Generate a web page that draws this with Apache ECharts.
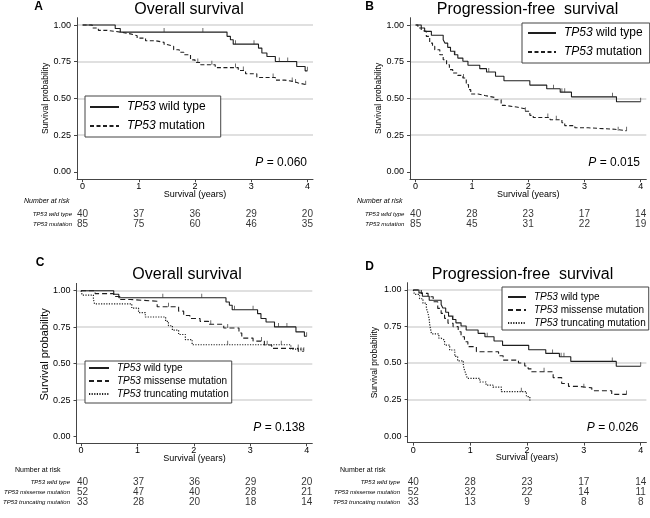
<!DOCTYPE html>
<html>
<head>
<meta charset="utf-8">
<script src="https://cdn.jsdelivr.net/npm/echarts@6/dist/echarts.min.js"></script>
<style>html,body{margin:0;padding:0;background:#fff}#c{width:650px;height:518px}</style>
</head>
<body>
<div id="c"></div>
<script>
// ---------------- data ----------------
const xTicks = [0, 1, 2, 3, 4];
const yTicks = [0, 0.25, 0.5, 0.75, 1];

// Kaplan-Meier events: [time (years), survival after the step]
const osWild = [[0.58,0.976],[0.67,0.952],[2.57,0.923],[2.63,0.9],[2.68,0.87],[3.13,0.843],[3.19,0.81],[3.28,0.786],[3.43,0.752],[3.81,0.718],[3.96,0.688]];
const osWildEnd = 4.0;
const osMut = [[0.17,0.98],[0.28,0.964],[0.43,0.952],[0.67,0.94],[0.85,0.927],[0.97,0.911],[1.12,0.893],[1.3,0.882],[1.45,0.867],[1.5,0.855],[1.62,0.832],[1.72,0.815],[1.8,0.798],[1.92,0.763],[2.0,0.745],[2.1,0.73],[2.36,0.71],[2.77,0.69],[2.9,0.668],[3.1,0.643],[3.43,0.625],[3.6,0.616],[3.75,0.605],[3.84,0.593]];
const osMutEnd = 4.0;
const osMis = [[0.25,0.98],[0.58,0.96],[0.69,0.94],[0.87,0.928],[1.35,0.89],[1.73,0.86],[1.82,0.83],[1.93,0.81],[2.11,0.79],[2.26,0.77],[2.53,0.745],[2.8,0.71],[2.85,0.675],[3.05,0.655],[3.25,0.628],[3.38,0.605],[3.85,0.585]];
const osMisEnd = 3.95;
const osTrunc = [[0.02,0.97],[0.22,0.94],[0.24,0.91],[0.9,0.88],[1.02,0.85],[1.14,0.82],[1.5,0.79],[1.55,0.76],[1.62,0.73],[1.73,0.7],[1.85,0.665],[1.97,0.63],[3.72,0.6]];
const osTruncEnd = 3.95;

const pfsWild = [[0.1,0.98],[0.16,0.957],[0.28,0.93],[0.49,0.9],[0.52,0.877],[0.57,0.848],[0.62,0.821],[0.69,0.798],[0.75,0.775],[0.84,0.753],[0.93,0.726],[1.14,0.703],[1.26,0.68],[1.42,0.651],[1.57,0.621],[2.03,0.591],[2.33,0.566],[2.57,0.543],[2.77,0.511],[3.57,0.478]];
const pfsWildEnd = 4.0;
const pfsMut = [[0.04,0.98],[0.1,0.965],[0.13,0.957],[0.19,0.923],[0.25,0.877],[0.3,0.855],[0.34,0.832],[0.43,0.798],[0.49,0.764],[0.55,0.73],[0.6,0.696],[0.66,0.673],[0.75,0.657],[0.84,0.639],[0.9,0.594],[0.94,0.56],[0.98,0.53],[1.11,0.52],[1.23,0.507],[1.4,0.491],[1.52,0.453],[1.58,0.44],[1.82,0.43],[1.94,0.413],[2.03,0.385],[2.09,0.37],[2.39,0.355],[2.6,0.335],[2.65,0.315],[2.83,0.3],[3.07,0.29],[3.54,0.28]];
const pfsMutEnd = 3.75;
const pfsMis = [[0.14,0.977],[0.26,0.954],[0.35,0.92],[0.43,0.874],[0.49,0.84],[0.55,0.806],[0.61,0.772],[0.7,0.749],[0.79,0.714],[0.84,0.68],[0.9,0.646],[0.96,0.612],[1.11,0.577],[1.5,0.55],[1.58,0.52],[1.85,0.5],[1.96,0.48],[2.02,0.46],[2.08,0.44],[2.46,0.4],[2.61,0.36],[2.73,0.34],[2.9,0.33],[3.14,0.31],[3.49,0.285]];
const pfsMisEnd = 3.75;
const pfsTrunc = [[0.02,0.97],[0.11,0.94],[0.17,0.91],[0.23,0.876],[0.26,0.84],[0.28,0.8],[0.29,0.76],[0.32,0.7],[0.45,0.67],[0.49,0.657],[0.55,0.623],[0.64,0.589],[0.73,0.545],[0.78,0.515],[0.88,0.48],[0.9,0.452],[0.93,0.42],[0.95,0.395],[1.17,0.37],[1.28,0.349],[1.4,0.335],[1.55,0.304],[1.99,0.27],[2.05,0.245]];
const pfsTruncEnd = 2.08;

// censoring marks [time, survival]
const osWildCens = [[1.45,0.952],[2.14,0.952],[2.72,0.87],[3.05,0.87],[3.5,0.752],[3.65,0.752],[4.0,0.688]];
const osMutCens = [[2.05,0.745],[2.3,0.73],[2.72,0.71],[2.86,0.69],[3.39,0.643],[3.73,0.616],[3.79,0.605],[3.97,0.593]];
const osMisCens = [[1.55,0.89],[2.3,0.77],[2.6,0.745],[3.2,0.655],[3.85,0.605],[3.9,0.585],[3.95,0.585]];
const osTruncCens = [[2.6,0.63],[3.3,0.63],[3.55,0.63]];
const pfsWildCens = [[0.7,0.798],[1.3,0.68],[2.45,0.566],[2.6,0.543],[2.65,0.543],[3.5,0.511],[4.0,0.478]];
const pfsMutCens = [[0.85,0.639],[1.95,0.413],[2.35,0.37],[2.5,0.355],[3.6,0.28],[3.75,0.28]];
const pfsMisCens = [[2.3,0.44],[3.0,0.33],[3.75,0.285]];
const pfsTruncCens = [[1.9,0.304]];

// number at risk
const riskA_wild = [40,37,36,29,20];
const riskA_mut  = [85,75,60,46,35];
const riskB_wild = [40,28,23,17,14];
const riskB_mut  = [85,45,31,22,19];
const riskC_wild = [40,37,36,29,20];
const riskC_mis  = [52,47,40,28,21];
const riskC_trunc= [33,28,20,18,14];
const riskD_wild = [40,28,23,17,14];
const riskD_mis  = [52,32,22,14,11];
const riskD_trunc= [33,13,9,8,8];

const nameWild = 'TP53 wild type';
const nameMut = 'TP53 mutation';
const nameMis = 'TP53 missense mutation';
const nameTrunc = 'TP53 truncating mutation';

// ---------------- helpers ----------------
const FONT = 'Liberation Sans, Arial, Helvetica, sans-serif';
const INK = '#1e1e1e';
const AXIS = '#454545';
const GRIDC = '#e0e0e0';

function steps(ev, end) {
  const pts = [[0, 1]]; let s = 1;
  ev.forEach(function (e) { pts.push([e[0], s]); pts.push([e[0], e[1]]); s = e[1]; });
  pts.push([end, s]);
  return pts;
}
const styles = {
  wild: { type: 'solid', width: 1.1 },
  mut: { type: [4, 2.5], width: 1.1 },
  mis: { type: [5, 3], width: 1.1 },
  trunc: { type: [1.2, 1.4], width: 1.2 }
};

const panels = [
  { plot: {left:77, top:17.7, width:236, height:161.5}, x:[-0.1,4.1], y:[-0.05,1.05],
    risk: {left:77, top:209, width:236, height:20}, riskMargin:5,
    yName: {size:8.5, gap:27, pad:[0,0,0,0]},
    curves: [[nameWild, osWild, osWildEnd, 'wild', osWildCens],[nameMut, osMut, osMutEnd, 'mut', osMutCens]],
    rows: [[nameWild, riskA_wild],[nameMut, riskA_mut]] },
  { plot: {left:410, top:17.7, width:236.3, height:161.5}, x:[-0.1,4.1], y:[-0.05,1.05],
    risk: {left:410, top:209, width:236.3, height:20}, riskMargin:5.7,
    yName: {size:8.5, gap:27, pad:[0,0,0,0]},
    curves: [[nameWild, pfsWild, pfsWildEnd, 'wild', pfsWildCens],[nameMut, pfsMut, pfsMutEnd, 'mut', pfsMutCens]],
    rows: [[nameWild, riskB_wild],[nameMut, riskB_mut]] },
  { plot: {left:76.5, top:283.4, width:235.8, height:159.9}, x:[-0.08,4.1], y:[-0.045,1.05],
    risk: {left:76.5, top:477, width:235.8, height:30}, riskMargin:8,
    yName: {size:11, gap:26, pad:[0,0,0,18]},
    curves: [[nameWild, osWild, osWildEnd, 'wild', osWildCens],[nameMis, osMis, osMisEnd, 'mis', osMisCens],[nameTrunc, osTrunc, osTruncEnd, 'trunc', osTruncCens]],
    rows: [[nameWild, riskC_wild],[nameMis, riskC_mis],[nameTrunc, riskC_trunc]] },
  { plot: {left:407.6, top:282.7, width:238.8, height:159.9}, x:[-0.1,4.1], y:[-0.045,1.05],
    risk: {left:407.6, top:477, width:238.8, height:30}, riskMargin:7.6,
    yName: {size:8.5, gap:28, pad:[0,0,0,0]},
    curves: [[nameWild, pfsWild, pfsWildEnd, 'wild', pfsWildCens],[nameMis, pfsMis, pfsMisEnd, 'mis', pfsMisCens],[nameTrunc, pfsTrunc, pfsTruncEnd, 'trunc', pfsTruncCens]],
    rows: [[nameWild, riskD_wild],[nameMis, riskD_mis],[nameTrunc, riskD_trunc]] }
];

const grid = [], xAxis = [], yAxis = [], series = [];
panels.forEach(function (p, i) {
  const gPlot = grid.length; grid.push(p.plot);
  const gRisk = grid.length; grid.push(p.risk);
  xAxis.push({
    type: 'value', gridIndex: gPlot, min: p.x[0], max: p.x[1],
    axisLine: { show: true, onZero: false, lineStyle: { color: AXIS, width: 1 } },
    axisTick: { show: true, length: 3, customValues: xTicks, lineStyle: { color: AXIS } },
    axisLabel: { customValues: xTicks, fontSize: 9, margin: 3, color: '#000', fontFamily: FONT },
    splitLine: { show: false },
    name: 'Survival (years)', nameLocation: 'middle', nameGap: 10.5, nameMoveOverlap: false,
    nameTextStyle: { fontSize: 9, color: '#000', fontFamily: FONT }
  });
  yAxis.push({
    type: 'value', gridIndex: gPlot, min: p.y[0], max: p.y[1],
    axisLine: { show: true, onZero: false, lineStyle: { color: AXIS, width: 1 } },
    axisTick: { show: true, length: 3, customValues: yTicks, lineStyle: { color: AXIS } },
    axisLabel: { customValues: yTicks, fontSize: 9, margin: 6, color: '#000', fontFamily: FONT,
      formatter: function (v) { return v.toFixed(2); } },
    splitLine: { show: true, lineStyle: { width: 1.8, type: 'solid',
      color: ['rgba(0,0,0,0)', GRIDC, GRIDC, GRIDC, GRIDC] } },
    name: 'Survival probability', nameLocation: 'middle', nameGap: p.yName.gap, nameMoveOverlap: false,
    nameTextStyle: { fontSize: p.yName.size, color: '#000', fontFamily: FONT, padding: p.yName.pad }
  });
  const xPlot = xAxis.length - 1, yPlot = yAxis.length - 1;
  // risk table axes
  xAxis.push({ type: 'value', gridIndex: gRisk, min: p.x[0], max: p.x[1], show: false });
  yAxis.push({ type: 'category', gridIndex: gRisk, inverse: true,
    data: p.rows.map(function (r) { return r[0]; }),
    axisLine: { show: false }, axisTick: { show: false }, splitLine: { show: false },
    axisLabel: { fontSize: 6, fontStyle: 'italic', color: '#000', margin: p.riskMargin, fontFamily: FONT }
  });
  const xRisk = xAxis.length - 1, yRisk = yAxis.length - 1;

  p.curves.forEach(function (c) {
    series.push({ type: 'line', name: c[0], xAxisIndex: xPlot, yAxisIndex: yPlot,
      data: steps(c[1], c[2]), symbol: 'none', showSymbol: false, silent: true, z: 3,
      lineStyle: { color: INK, width: styles[c[3]].width, type: styles[c[3]].type },
      itemStyle: { color: INK } });
    series.push({ type: 'scatter', name: 'cens ' + i + ' ' + c[3], xAxisIndex: xPlot, yAxisIndex: yPlot,
      data: c[4], symbol: 'rect', symbolSize: [0.9, 4], symbolOffset: [0, -2], silent: true, z: 3,
      itemStyle: { color: '#333' } });
  });

  p.rows.forEach(function (r, ri) {
    series.push({ type: 'scatter', name: 'risk ' + i + ' ' + ri, xAxisIndex: xRisk, yAxisIndex: yRisk,
      data: xTicks.map(function (t, k) { return [t, ri, r[1][k]]; }),
      symbolSize: 1, itemStyle: { color: 'rgba(0,0,0,0)' }, silent: true,
      label: { show: true, position: 'inside', formatter: function (q) { return q.value[2]; },
        fontSize: 10, color: '#000', fontFamily: FONT } });
  });
});

function txt(text, left, top, size, opts) {
  opts = opts || {};
  return { text: text, left: left, top: top, padding: 0, itemGap: 0,
    textAlign: opts.align || 'center', textVerticalAlign: 'middle',
    textStyle: { fontSize: size, fontWeight: opts.bold ? 'bold' : 'normal', fontStyle: opts.italic ? 'italic' : 'normal',
      color: '#000', fontFamily: FONT,
      rich: { i: { fontStyle: 'italic', fontSize: size, fontFamily: FONT, color: '#000' } } } };
}
const title = [
  txt('A', 38.5, 7, 12, {bold: true}),
  txt('Overall survival', 189, 10, 16),
  txt('B', 369.5, 7, 12, {bold: true}),
  txt('Progression-free  survival', 527.5, 10, 16),
  txt('C', 40, 263, 12, {bold: true}),
  txt('Overall survival', 187, 275, 16),
  txt('D', 369.5, 267, 12, {bold: true}),
  txt('Progression-free  survival', 522.5, 275, 16),
  txt('{i|P} = 0.060', 307, 163, 12, {align: 'right'}),
  txt('{i|P} = 0.015', 640, 163, 12, {align: 'right'}),
  txt('{i|P} = 0.138', 305, 428, 12, {align: 'right'}),
  txt('{i|P} = 0.026', 638.5, 428, 12, {align: 'right'}),
  txt('Number at risk', 24, 201, 7, {align: 'left', italic: true}),
  txt('Number at risk', 357, 201, 7, {align: 'left', italic: true}),
  txt('Number at risk', 15, 470.5, 7, {align: 'left'}),
  txt('Number at risk', 340, 470, 7, {align: 'left'})
];

function leg(names, left, top, pad, iw, ih, gap, fs) {
  return { data: names, orient: 'vertical', left: left, top: top, padding: pad,
    itemWidth: iw, itemHeight: ih, itemGap: gap, selectedMode: false,
    borderColor: '#444', borderWidth: 1, borderRadius: 0, backgroundColor: '#fff',
    itemStyle: { opacity: 0, color: 'rgba(0,0,0,0)', borderWidth: 0 },
    lineStyle: { opacity: 1 },
    formatter: function (n) { return n.replace('TP53', '{i|TP53}'); },
    textStyle: { fontSize: fs, color: '#000', fontFamily: FONT, padding: [0, 0, 0, 3],
      rich: { i: { fontStyle: 'italic', fontSize: fs, color: '#000', fontFamily: FONT } } } };
}
const legend = [
  leg([nameWild, nameMut], 85, 96, [5, 15, 5, 4], 29, 12, 7, 12),
  leg([nameWild, nameMut], 522, 23, [4, 7, 5, 5], 28, 12, 7, 12),
  leg([nameWild, nameMis, nameTrunc], 85, 361, [2, 3, 4, 3], 20, 10, 3, 10),
  leg([nameWild, nameMis, nameTrunc], 502, 287, [5, 3, 2, 5], 18, 10, 3, 10)
];

const chart = echarts.init(document.getElementById('c'), null, { renderer: 'canvas' });
chart.setOption({
  backgroundColor: '#fff', animation: false,
  title: title, legend: legend, grid: grid, xAxis: xAxis, yAxis: yAxis, series: series
});
</script>
</body>
</html>
